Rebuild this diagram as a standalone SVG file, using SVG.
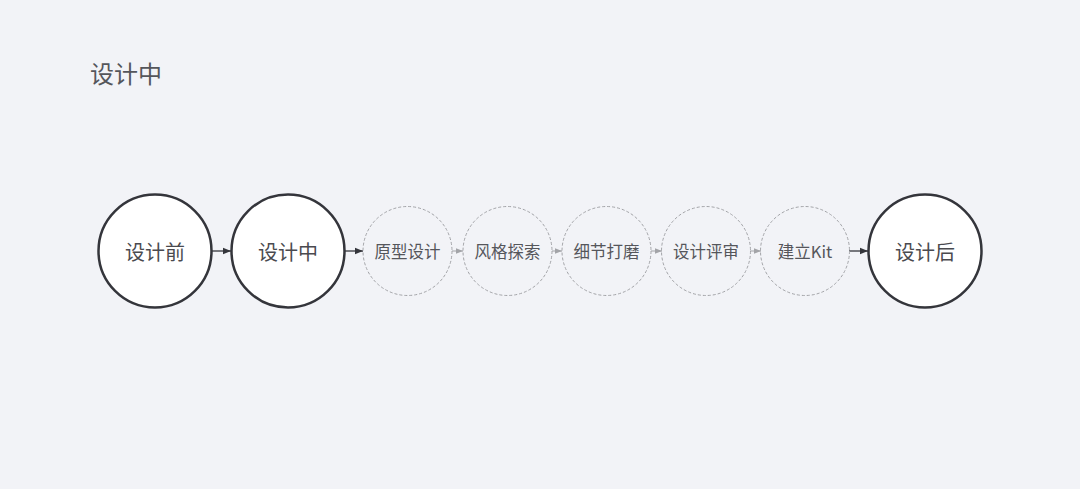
<svg xmlns="http://www.w3.org/2000/svg" width="1080" height="489" viewBox="0 0 1080 489">
<style>
text{font-family:"Noto Sans CJK SC","Noto Sans",sans-serif;text-anchor:middle;dominant-baseline:central}
.big circle{fill:#fff;stroke:#34353b;stroke-width:2.5}
.big text{font-size:20px;fill:#4a4a4f}
.sm circle{fill:none;stroke:#a3a4a8;stroke-width:1;stroke-dasharray:3 2}
.sm text{font-size:16.5px;fill:#55565b}
.dk{stroke:#34353b;stroke-width:1.3;fill:none}
.lt{stroke:#a3a4a8;stroke-width:1;fill:none}
</style>
<defs>
<marker id="ad" viewBox="0 0 8 8" refX="8" refY="4" markerWidth="8" markerHeight="8" markerUnits="userSpaceOnUse" orient="auto"><path d="M0,0.8 L8,4 L0,7.2 Z" fill="#34353b"/></marker>
<marker id="al" viewBox="0 0 8 8" refX="8" refY="4" markerWidth="7" markerHeight="7" markerUnits="userSpaceOnUse" orient="auto"><path d="M0,0.8 L8,4 L0,7.2 Z" fill="#a3a4a8"/></marker>
</defs>
<rect width="1080" height="489" fill="#f2f3f7"/>
<text x="90" y="72" style="text-anchor:start;font-size:24px;fill:#55565b">设计中</text>
<g id="connectors">
<line class="dk" x1="212" y1="251" x2="231" y2="251" marker-end="url(#ad)"/>
<line class="dk" x1="345" y1="251" x2="363" y2="251" marker-end="url(#ad)"/>
<line class="lt" x1="452" y1="251" x2="463" y2="251" marker-end="url(#al)"/>
<line class="lt" x1="552" y1="251" x2="562" y2="251" marker-end="url(#al)"/>
<line class="lt" x1="651" y1="251" x2="662" y2="251" marker-end="url(#al)"/>
<line class="lt" x1="750" y1="251" x2="761" y2="251" marker-end="url(#al)"/>
<line class="dk" x1="849" y1="251" x2="868" y2="251" marker-end="url(#ad)"/>
</g>
<g id="n1" class="big"><circle cx="155" cy="251" r="56.5"/><text x="155" y="251">设计前</text></g>
<g id="n2" class="big"><circle cx="288" cy="251" r="56.5"/><text x="288" y="251">设计中</text></g>
<g id="n3" class="sm"><circle cx="407.5" cy="251" r="44.5"/><text x="407.5" y="251">原型设计</text></g>
<g id="n4" class="sm"><circle cx="507.5" cy="251" r="44.5"/><text x="507.5" y="251">风格探索</text></g>
<g id="n5" class="sm"><circle cx="606.5" cy="251" r="44.5"/><text x="606.5" y="251">细节打磨</text></g>
<g id="n6" class="sm"><circle cx="706" cy="251" r="44.5"/><text x="706" y="251">设计评审</text></g>
<g id="n7" class="sm"><circle cx="805" cy="251" r="44.5"/><text x="805" y="251">建立Kit</text></g>
<g id="n8" class="big"><circle cx="925" cy="251" r="56.5"/><text x="925" y="251">设计后</text></g>
</svg>
